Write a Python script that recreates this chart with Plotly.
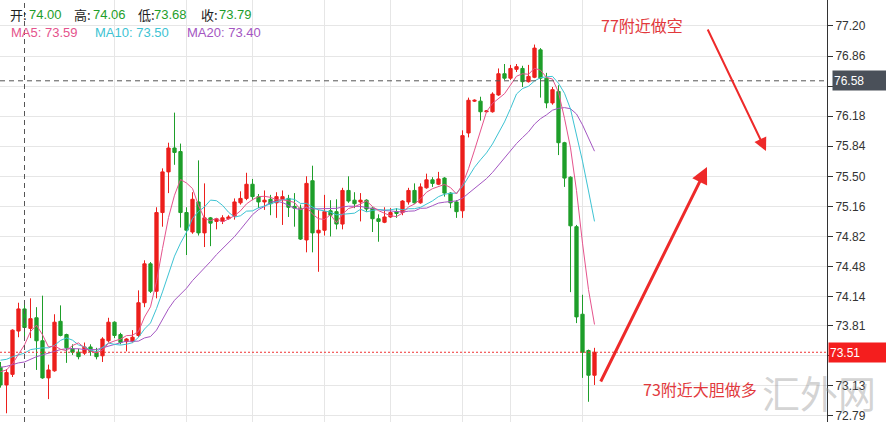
import numpy as np
import pandas as pd
import plotly.graph_objects as go

# ---- OHLC data, oldest -> newest ----
opens = [73.34, 73.14, 73.26, 73.75, 74.00, 73.78, 73.90, 73.64, 73.22, 73.30,
         73.86, 73.71, 73.55, 73.51, 73.50, 73.57, 73.51, 73.47, 73.64, 73.85,
         73.71, 73.63, 73.63, 73.70, 74.07, 74.51, 74.20, 75.09, 75.55, 75.82,
         75.78, 75.09, 74.87, 75.21, 74.86, 75.03, 74.99, 74.99, 75.02, 75.05,
         75.20, 75.25, 75.41, 75.27, 75.21, 75.24, 75.20, 75.24, 75.25, 75.16,
         75.14, 74.78, 75.45, 74.86, 74.89, 75.11, 75.10, 74.96, 75.34, 75.23,
         75.21, 75.23, 75.14, 75.02, 74.98, 75.04, 75.10, 75.09, 75.21, 75.34,
         75.20, 75.37, 75.46, 75.41, 75.48, 75.31, 75.21, 75.11, 75.99, 76.35,
         76.35, 76.23, 76.23, 76.42, 76.66, 76.61, 76.71, 76.72, 76.57, 76.62,
         76.93, 76.61, 76.33, 76.46, 75.88, 75.49, 74.93, 73.94, 73.53, 73.25]
highs = [73.40, 73.32, 73.77, 74.07, 74.06, 74.12, 74.02, 74.15, 73.37, 73.94,
         74.04, 73.72, 73.60, 73.55, 73.62, 73.60, 73.56, 73.68, 73.90, 73.86,
         73.73, 73.67, 73.76, 74.21, 74.55, 74.53, 75.15, 75.59, 75.88, 76.22,
         75.87, 75.15, 75.32, 75.68, 75.42, 75.04, 75.03, 75.06, 75.06, 75.25,
         75.33, 75.54, 75.47, 75.30, 75.34, 75.29, 75.32, 75.34, 75.29, 75.31,
         75.18, 75.50, 75.62, 75.12, 75.29, 75.23, 75.24, 75.37, 75.50, 75.32,
         75.31, 75.24, 75.15, 75.07, 75.15, 75.14, 75.14, 75.23, 75.37, 75.42,
         75.42, 75.53, 75.49, 75.55, 75.49, 75.32, 75.23, 76.02, 76.39, 76.37,
         76.40, 76.25, 76.45, 76.72, 76.77, 76.76, 76.77, 76.75, 76.76, 76.99,
         76.95, 76.67, 76.51, 76.53, 75.89, 75.50, 74.95, 74.16, 73.54, 73.56]
lows = [73.11, 72.82, 73.23, 73.68, 73.68, 73.67, 73.31, 73.21, 72.98, 73.29,
        73.69, 73.39, 73.48, 73.43, 73.48, 73.47, 73.43, 73.40, 73.62, 73.67,
        73.60, 73.52, 73.62, 73.68, 74.02, 74.18, 74.12, 74.93, 75.31, 75.63,
        74.92, 74.61, 74.85, 74.83, 74.70, 74.71, 74.90, 74.96, 75.01, 75.01,
        75.18, 75.23, 75.23, 75.14, 75.12, 75.06, 75.03, 74.95, 75.04, 74.93,
        74.78, 74.64, 74.64, 74.42, 74.83, 74.82, 74.90, 74.90, 75.20, 75.14,
        74.99, 75.10, 74.87, 74.76, 74.97, 75.03, 75.03, 75.06, 75.18, 75.19,
        75.19, 75.36, 75.38, 75.40, 75.27, 75.14, 75.03, 75.03, 75.94, 76.34,
        76.13, 76.22, 76.22, 76.41, 76.59, 76.59, 76.68, 76.51, 76.56, 76.61,
        76.39, 76.27, 76.31, 75.74, 75.38, 74.19, 73.84, 73.22, 72.95, 73.14]
closes = [73.14, 73.28, 73.76, 74.00, 73.79, 73.89, 73.64, 73.22, 73.31, 73.85,
          73.70, 73.56, 73.51, 73.46, 73.57, 73.52, 73.46, 73.66, 73.85, 73.70,
          73.62, 73.66, 73.68, 74.07, 74.51, 74.20, 75.09, 75.55, 75.82, 75.77,
          75.09, 74.89, 75.24, 74.86, 75.03, 74.97, 75.02, 75.03, 75.04, 75.21,
          75.25, 75.41, 75.27, 75.21, 75.23, 75.19, 75.27, 75.27, 75.15, 75.14,
          74.79, 75.42, 74.86, 74.89, 75.10, 75.06, 74.96, 75.34, 75.22, 75.19,
          75.23, 75.13, 75.02, 74.99, 75.04, 75.09, 75.08, 75.22, 75.34, 75.20,
          75.38, 75.46, 75.42, 75.47, 75.31, 75.20, 75.10, 75.96, 76.36, 76.36,
          76.23, 76.24, 76.43, 76.66, 76.61, 76.72, 76.74, 76.57, 76.63, 76.95,
          76.61, 76.33, 76.48, 75.88, 75.48, 74.94, 73.91, 73.51, 73.25, 73.51]

ma5_head = [73.29, 73.31, 73.38, 73.49]
ma10_head = [73.42, 73.43, 73.46, 73.48, 73.50, 73.54, 73.55, 73.56, 73.56]
ma20_head = [73.34, 73.35, 73.37, 73.39, 73.40, 73.43, 73.46, 73.48, 73.50, 73.52,
             73.54, 73.55, 73.55, 73.55, 73.54, 73.54, 73.54, 73.56, 73.58]

ytick_vals = [77.20, 76.86, 76.52, 76.18, 75.84, 75.50, 75.16, 74.82, 74.48,
              74.14, 73.81, 73.47, 73.13, 72.79]
ytick_text = ["77.20", "76.86", "", "76.18", "75.84", "75.50", "75.16", "74.82",
              "74.48", "74.14", "73.81", "", "73.13", "72.79"]
xgrid_idx = [19, 31, 42, 54, 65, 77, 85, 97]   # candles where time gridlines fall
crosshair_idx = 4
crosshair_price = 76.58

RED = "#EC1F1C"
GREEN = "#1E9E2A"
C_MA5 = "#E5538C"
C_MA10 = "#3DC3D3"
C_MA20 = "#A456C2"
TXT_RED = "#E2393C"

n = len(closes)
idx = list(range(n))
cs = pd.Series(closes)


def ma(win, head):
    s = cs.rolling(win).mean().to_numpy()
    s[:len(head)] = head
    return s


ma5 = ma(5, ma5_head)
ma10 = ma(10, ma10_head)
ma20 = ma(20, ma20_head)

fig = go.Figure()
fig.add_trace(go.Candlestick(
    x=idx, open=opens, high=highs, low=lows, close=closes,
    increasing=dict(line=dict(color=RED, width=1), fillcolor=RED),
    decreasing=dict(line=dict(color=GREEN, width=1), fillcolor=GREEN),
    whiskerwidth=0, showlegend=False, hoverinfo="skip"))
for s, c in [(ma20, C_MA20), (ma10, C_MA10), (ma5, C_MA5)]:
    fig.add_trace(go.Scatter(x=idx, y=s, mode="lines", line=dict(color=c, width=1),
                             showlegend=False, hoverinfo="skip"))

W, H = 886, 422
PW = 827  # plot area width in px
X0 = -1 / 12
X1 = X0 + PW / 6
Y1 = 77.494
Y0 = Y1 - H * 0.01131

shapes = [
    dict(type="line", xref="paper", x0=0, x1=1, yref="y", y0=crosshair_price, y1=crosshair_price,
         line=dict(color="#555555", width=1, dash="5px,4px")),
    dict(type="line", xref="x", x0=crosshair_idx, x1=crosshair_idx, yref="paper", y0=0, y1=1,
         line=dict(color="#555555", width=1, dash="5px,4px")),
    dict(type="line", xref="paper", x0=0, x1=1, yref="y", y0=closes[-1], y1=closes[-1],
         line=dict(color="#F03030", width=1, dash="2px,2px")),
]

FONT = "Liberation Sans, Arial, Noto Sans CJK SC, sans-serif"
CJK = "Noto Sans CJK SC, sans-serif"


def px(xp):
    return xp / PW


def py(yp):
    return 1 - yp / H


ann = []


def txt(x, y, s, color, size=13, family=FONT):
    ann.append(dict(x=px(x), y=py(y), xref="paper", yref="paper", xanchor="left", yanchor="middle",
                    text=s, showarrow=False, font=dict(color=color, size=size, family=family)))


# header: OHLC of crosshair candle and MA values
i = crosshair_idx
txt(8, 14, "开:", "#222222", family=CJK)
txt(27, 14, f"{opens[i]:.2f}", GREEN)
txt(72, 14, "高:", "#222222", family=CJK)
txt(91, 14, f"{highs[i]:.2f}", GREEN)
txt(136, 14, "低:", "#222222", family=CJK)
txt(152, 14, f"{lows[i]:.2f}", GREEN)
txt(199, 14, "收:", "#222222", family=CJK)
txt(217, 14, f"{closes[i]:.2f}", GREEN)
txt(9, 32, f"MA5: {ma5[i]:.2f}", C_MA5)
txt(93, 32, f"MA10: {ma10[i]:.2f}", C_MA10)
txt(185, 32, f"MA20: {ma20[i]:.2f}", C_MA20)

# trade notes
txt(599, 25, "77附近做空", TXT_RED, size=16, family=CJK)
txt(641, 389, "73附近大胆做多", TXT_RED, size=16, family=CJK)

# watermark
ann.append(dict(x=px(760), y=py(391), xref="paper", yref="paper", xanchor="left", yanchor="middle",
                text="汇外网", showarrow=False,
                font=dict(color="rgba(150,150,150,0.42)", size=38, family=CJK)))

# arrows
ann.append(dict(x=px(766), y=py(151), xref="paper", yref="paper", text="", showarrow=True,
                ax=-59, ay=-123, arrowhead=2, arrowsize=1.3, arrowwidth=2, arrowcolor="#EE2A2A",
                standoff=0))
ann.append(dict(x=px(707), y=py(167), xref="paper", yref="paper", text="", showarrow=True,
                ax=-107, ay=216, arrowhead=2, arrowsize=1.1, arrowwidth=3, arrowcolor="#EE2A2A",
                standoff=0))

# right-axis value labels
ann.append(dict(x=1, xref="paper", y=crosshair_price, yref="y", xanchor="left", yanchor="middle",
                xshift=5, text=f"{crosshair_price:.2f}", showarrow=False, bgcolor="#4A5059",
                font=dict(color="white", size=12, family=FONT), width=54, height=17,
                align="left", borderpad=1))
ann.append(dict(x=1, xref="paper", y=closes[-1], yref="y", xanchor="left", yanchor="middle",
                xshift=1, text=f"{closes[-1]:.2f}", showarrow=False, bgcolor="#F41E1E",
                font=dict(color="white", size=12, family=FONT), width=58, height=17,
                align="left", borderpad=1))

fig.update_layout(
    width=W, height=H, margin=dict(l=0, r=W - PW, t=0, b=0),
    paper_bgcolor="white", plot_bgcolor="white",
    boxgap=0.22, hovermode=False, showlegend=False,
    shapes=shapes, annotations=ann,
    xaxis=dict(range=[X0, X1], rangeslider=dict(visible=False), showticklabels=False,
               tickmode="array", tickvals=xgrid_idx, ticks="", showgrid=True,
               gridcolor="#E6E6E6", gridwidth=1, zeroline=False, showline=False, fixedrange=True),
    yaxis=dict(range=[Y0, Y1], side="right", tickmode="array", tickvals=ytick_vals,
               ticktext=ytick_text, ticks="outside", ticklen=5, tickcolor="#333333",
               showline=True, linecolor="#333333", linewidth=1, showgrid=True,
               gridcolor="#E6E6E6", gridwidth=1, zeroline=False, ticklabeloverflow="allow",
               tickfont=dict(size=12, color="#333333", family=FONT), fixedrange=True),
)

fig.write_html("out.html", config={"displayModeBar": False},
               post_script="document.body.style.margin='0';document.body.style.overflow='hidden';")
